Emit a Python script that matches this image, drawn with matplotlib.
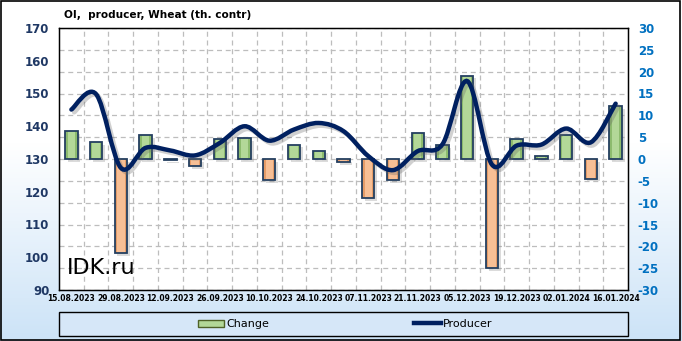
"""OI producer, Wheat (th. contr): weekly change bars + smoothed producer line -> out.png"""
import numpy as np
import matplotlib
matplotlib.use("Agg")
from matplotlib import pyplot as plt
from matplotlib import patheffects as pe
from matplotlib.path import Path
from matplotlib.patches import PathPatch, Rectangle, Patch
from matplotlib.lines import Line2D

plt.rcParams["axes.unicode_minus"] = False

DATES = ["15.08.2023", "22.08.2023", "29.08.2023", "05.09.2023", "12.09.2023",
         "19.09.2023", "26.09.2023", "03.10.2023", "10.10.2023", "17.10.2023",
         "24.10.2023", "31.10.2023", "07.11.2023", "14.11.2023", "21.11.2023",
         "28.11.2023", "05.12.2023", "12.12.2023", "19.12.2023", "26.12.2023",
         "02.01.2024", "09.01.2024", "16.01.2024"]
# weekly change (right axis)
CHANGE = [6.4, 3.9, -21.5, 5.4, -0.3, -1.6, 4.6, 4.8, -4.9, 3.3, 1.9, -0.7,
          -8.9, -4.9, 6.0, 3.2, 19.1, -24.9, 4.6, 0.6, 5.5, -4.5, 12.2]
# producer open interest (left axis)
PRODUCER = [145.1, 149.8, 127.3, 133.4, 132.6, 131.1, 134.9, 140.0, 135.6, 139.0,
            141.0, 138.5, 130.9, 126.6, 132.4, 134.5, 153.8, 128.3, 134.1, 134.4,
            139.3, 135.1, 146.9]

NAVY = "#002060"
EDGE = "#243f60"
GREEN_SIDE, GREEN = "#8dbb6e", "#b3d898"
ORANGE_SIDE, ORANGE = "#e59c68", "#f7bf95"

W, H = 682, 341
fig = plt.figure(figsize=(W / 100, H / 100), dpi=100)

# background: white fading to light blue at the bottom, black outer frame
bg = fig.add_axes([0, 0, 1, 1], zorder=-10)
g = np.linspace(0, 1, 256)
g = np.clip((g - 0.42) / 0.58, 0, 1)
top = np.array([1.0, 1.0, 1.0]); bot = np.array([0.80, 0.89, 0.97])
img = top[None, None, :] + (bot - top)[None, None, :] * g[:, None, None]
bg.imshow(img, aspect="auto", extent=[0, 1, 0, 1], origin="upper")
bg.add_patch(Rectangle((0.001, 0.003), 0.996, 0.994, fill=False, ec="black", lw=1.2))
bg.set_xlim(0, 1); bg.set_ylim(0, 1); bg.axis("off")

x = np.arange(len(DATES))
ax = fig.add_axes([59 / W, 1 - 290 / H, (628 - 59) / W, (290 - 28) / H])
ax.set_facecolor("white")
ax2 = ax.twinx()

# bars on right scale: darker sides, lighter centre, navy outline
pos = [v >= 0 for v in CHANGE]
bars = ax.bar(x, CHANGE, 0.5, color=[GREEN_SIDE if s else ORANGE_SIDE for s in pos],
              lw=0, zorder=3)
for b in bars:
    b.set_path_effects([pe.SimplePatchShadow(offset=(2, -2), shadow_rgbFace="#888888", alpha=0.3),
                        pe.Normal()])
ax.bar(x, CHANGE, 0.3, color=[GREEN if s else ORANGE for s in pos], lw=0, zorder=3.1)
ax.bar(x, CHANGE, 0.5, fill=False, edgecolor=EDGE, lw=1.3, zorder=3.2)
ax.set_xlim(-0.5, len(DATES) - 0.5)
ax.set_ylim(-30, 30)
ax.set_yticks(np.arange(-30, 31, 5))
ax.yaxis.tick_right()
ax.yaxis.set_label_position("right")
ax.tick_params(axis="y", length=0, pad=7, labelsize=8.5, labelcolor="#0070c0")
for t in ax.get_yticklabels():
    t.set_fontweight("bold")
ax.set_xticks(x[::2])
ax.set_xticklabels(DATES[::2], fontsize=5.5, fontweight="bold")
ax.tick_params(axis="x", length=0, pad=3)
ax.set_xticks(x[:-1] + 0.5, minor=True)
ax.tick_params(axis="x", which="minor", length=0)
ax.grid(True, axis="y", ls=(0, (4, 3)), color="#bdbdbd", lw=0.9, zorder=0)
ax.grid(True, axis="x", which="minor", ls=(0, (4, 3)), color="#bdbdbd", lw=0.9, zorder=0)
for s in ax.spines.values():
    s.set_color("black"); s.set_linewidth(1.0)

# line on left scale, smoothed Bezier through the points
ax2.yaxis.tick_left()
ax2.yaxis.set_label_position("left")
ax2.set_ylim(90, 170)
ax2.set_yticks(np.arange(90, 171, 10))
ax2.tick_params(axis="y", length=0, pad=7, labelsize=8.5, labelcolor="#1f3864")
for t in ax2.get_yticklabels():
    t.set_fontweight("bold")
p = np.column_stack([x, PRODUCER]).astype(float)
verts = [p[0]]; codes = [Path.MOVETO]
for i in range(len(p) - 1):
    p0 = p[max(i - 1, 0)]; p1 = p[i]; p2 = p[i + 1]; p3 = p[min(i + 2, len(p) - 1)]
    verts += [p1 + (p2 - p0) / 6, p2 - (p3 - p1) / 6, p2]
    codes += [Path.CURVE4] * 3
curve = PathPatch(Path(verts, codes), fill=False, ec=NAVY, lw=3.2, capstyle="round", zorder=4)
curve.set_path_effects([pe.SimpleLineShadow(offset=(2, -2), shadow_color="#666666", alpha=0.3),
                        pe.Normal()])
ax2.add_patch(curve)
ax2.set_xlim(-0.5, len(DATES) - 0.5)

fig.text(64 / W, 1 - 15 / H, "OI,  producer, Wheat (th. contr)", fontsize=7.6,
         fontweight="bold", va="center", ha="left")
fig.text(67 / W, 1 - 268 / H, "IDK.ru", fontsize=16, va="center", ha="left", zorder=10)

# legend box
fig.patches.append(Rectangle((59 / W, 1 - 336 / H), (628 - 59) / W, 24 / H,
                             transform=fig.transFigure, fc="#d6e7f8", ec="black", lw=1.0))
handles = [Patch(fc=GREEN, ec="#4f6228", lw=1.0),
           Line2D([], [], color=NAVY, lw=3.2)]
fig.legend(handles, ["Change", "Producer"], loc="center", ncol=2,
           bbox_to_anchor=(345 / W, 1 - 324 / H), frameon=False, fontsize=8,
           columnspacing=13, handlelength=2.4, handletextpad=0.2, handleheight=0.6)

fig.savefig("out.png", dpi=100)
